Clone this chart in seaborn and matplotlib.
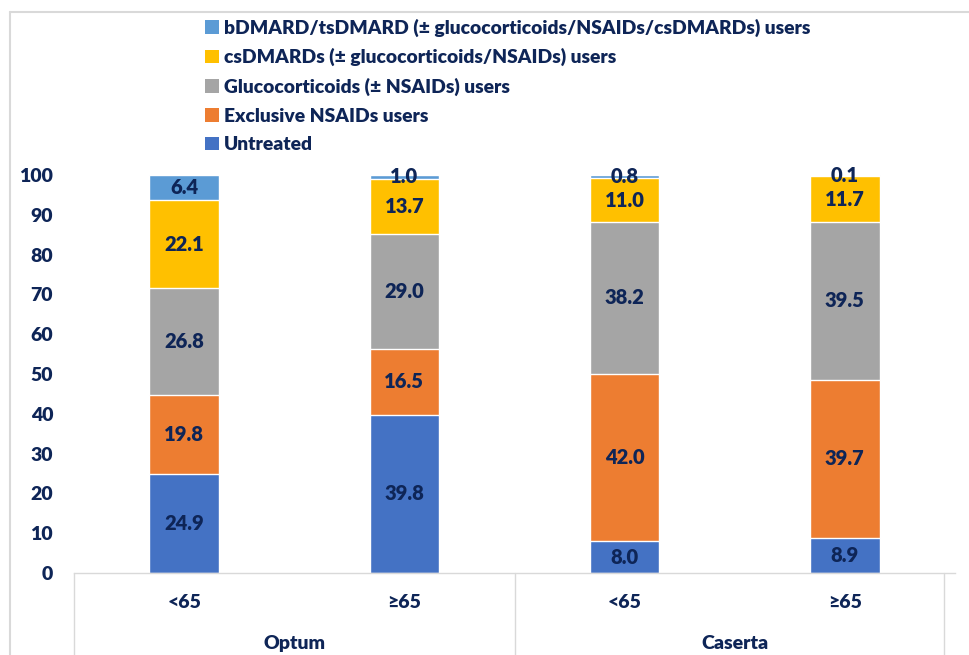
import numpy as np
import pandas as pd
import matplotlib
matplotlib.use('Agg')
from matplotlib import pyplot as plt
from matplotlib.patches import Patch
from matplotlib.lines import Line2D
import seaborn as sns

# data
groups=['Optum','Optum','Caserta','Caserta']
ages=['<65','\u226565','<65','\u226565']
series=['Untreated','Exclusive NSAIDs users','Glucocorticoids (\u00b1 NSAIDs) users',
        'csDMARDs (\u00b1 glucocorticoids/NSAIDs) users',
        'bDMARD/tsDMARD (\u00b1 glucocorticoids/NSAIDs/csDMARDs) users']
untreated=[24.9,39.8,8.0,8.9]
nsaids=[19.8,16.5,42.0,39.7]
gluco=[26.8,29.0,38.2,39.5]
csdmard=[22.1,13.7,11.0,11.7]
bdmard=[6.4,1.0,0.8,0.1]
colors=['#4472C4','#ED7D31','#A5A5A5','#FFC000','#5B9BD5']

navy='#0E2557'
grid='#D9D9D9'
W='heavy'

sns.set_style('white')
plt.rcParams['font.family']=['Lato','DejaVu Sans']
plt.rcParams['font.weight']=W

fig=plt.figure(figsize=(9.7,6.55),dpi=100)
ax=fig.add_axes([74/970,(655-573)/655,(955-74)/970,(573-175)/655])

cats=[g+' '+a for g,a in zip(groups,ages)]
vals=np.array([untreated,nsaids,gluco,csdmard,bdmard])
cum=np.cumsum(vals,axis=0)
df=pd.DataFrame({'cat':cats})
# layered cumulative bars, tallest first
for k in range(len(series)-1,-1,-1):
    df['v']=cum[k]
    sns.barplot(data=df,x='cat',y='v',color=colors[k],width=0.315,saturation=1,ax=ax,order=cats)

# value labels in middle of each segment
for k in range(len(series)):
    for i in range(len(cats)):
        mid=cum[k][i]-vals[k][i]/2
        ax.text(i,mid,'%.1f'%vals[k][i],ha='center',va='center',fontsize=14.5,
                color=navy,fontweight=W)

ax.set_xlim(-0.5,3.5)
ax.set_ylim(0,100)
ax.set_yticks(range(0,101,10))
ax.set_yticklabels([str(t) for t in range(0,101,10)],fontsize=14,color=navy,fontweight=W)
ax.tick_params(axis='y',length=0,pad=15)
ax.set_xticks([])
ax.set_xlabel('')
ax.set_ylabel('')
for s in ['left','right','top']:
    ax.spines[s].set_visible(False)
ax.spines['bottom'].set_color(grid)
ax.spines['bottom'].set_linewidth(1)

tr=ax.get_xaxis_transform()
for x in [-0.5,1.5,3.45]:
    ax.plot([x,x],[0,-0.21],color=grid,lw=1,transform=tr,clip_on=False)
for i,a in enumerate(ages):
    ax.text(i,-0.073,a,ha='center',va='center',fontsize=14,color=navy,fontweight=W,transform=tr)
ax.text(0.5,-0.176,'Optum',ha='center',va='center',fontsize=14,color=navy,fontweight=W,transform=tr)
ax.text(2.5,-0.176,'Caserta',ha='center',va='center',fontsize=14,color=navy,fontweight=W,transform=tr)

# chart border (left and top)
fig.add_artist(Line2D([10/970,10/970],[0,1-12/655],color=grid,lw=1.5,transform=fig.transFigure))
fig.add_artist(Line2D([10/970,1],[1-12/655,1-12/655],color=grid,lw=1.5,transform=fig.transFigure))

handles=[Patch(facecolor=colors[k],edgecolor='none',label=series[k]) for k in range(len(series)-1,-1,-1)]
leg=fig.legend(handles=handles,loc='upper left',bbox_to_anchor=(188/970,1-1/655),frameon=False,
               handlelength=0.72,handleheight=0.72,handletextpad=0.22,labelspacing=0.6,
               prop={'size':13.9,'weight':W})
for t in leg.get_texts():
    t.set_color(navy)

fig.savefig('out.png',dpi=100)
